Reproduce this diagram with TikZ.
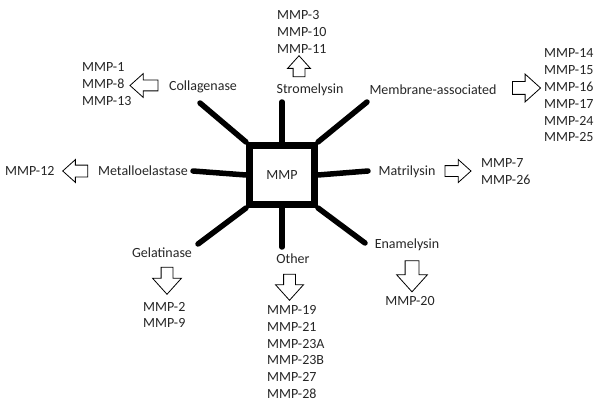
\documentclass[tikz,border=0pt]{standalone}
\usepackage{fontspec}
\setmainfont{Carlito}
\usetikzlibrary{shapes.arrows}

\tikzset{
  lbl/.style={text=black!85, font=\fontsize{14}{16.8}\selectfont, inner sep=1pt},
  mmplist/.style={lbl, align=left, anchor=west},
  spoke/.style={line width=5.5pt, line cap=round},
  blockarrow/.style={single arrow, draw, fill=white, line width=0.8pt,
    inner sep=0pt, single arrow tip angle=84},
}

\begin{document}
\begin{tikzpicture}[x=1pt, y=-1pt]
    \useasboundingbox (0,0) rectangle (604,406);
    % centre
    \node [draw, line width=7pt, minimum width=65pt, minimum height=59pt, lbl] (mmp) at (282,175) {MMP};
    % families
    \node [lbl] (coll) at (203,87) {Collagenase};
    \node [lbl] (strom) at (310,90) {Stromelysin};
    \node [lbl] (memb) at (433,90) {Membrane-associated};
    \node [lbl] (metal) at (143,171) {Metalloelastase};
    \node [lbl] (matri) at (407,172) {Matrilysin};
    \node [lbl] (gela) at (162,253) {Gelatinase};
    \node [lbl] (other) at (293,259) {Other};
    \node [lbl] (ename) at (407,245) {Enamelysin};
    % spoke ends
    \coordinate (endcoll) at (200,103);
    \coordinate (endstrom) at (282,102);
    \coordinate (endmemb) at (367,102);
    \coordinate (endmetal) at (193,171);
    \coordinate (endmatri) at (368,171);
    \coordinate (endgela) at (198,244);
    \coordinate (endother) at (282,247);
    \coordinate (endename) at (365,243);
    \draw [spoke] (mmp.north west) -- (endcoll);
    \draw [spoke] (mmp.north) -- (endstrom);
    \draw [spoke] (mmp.north east) -- (endmemb);
    \draw [spoke] (mmp.west) -- (endmetal);
    \draw [spoke] (mmp.east) -- (endmatri);
    \draw [spoke] (mmp.south west) -- (endgela);
    \draw [spoke] (mmp.south) -- (endother);
    \draw [spoke] (mmp.south east) -- (endename);
    % block arrows
    \node [blockarrow, rotate=180, minimum height=28pt, inner ysep=5pt, single arrow head extend=6.5pt] (acoll) at (147,85.5) {};
    \node [blockarrow, rotate=90, minimum height=21pt, inner ysep=5.5pt, single arrow head extend=5.5pt] (astrom) at (299,69.5) {};
    \node [blockarrow, minimum height=28pt, inner ysep=6pt, single arrow head extend=7.5pt] (amemb) at (523,88) {};
    \node [blockarrow, rotate=180, minimum height=25pt, inner ysep=5.5pt, single arrow head extend=5.5pt] (ametal) at (78.5,171) {};
    \node [blockarrow, minimum height=26pt, inner ysep=5pt, single arrow head extend=6pt] (amatri) at (455,171) {};
    \node [blockarrow, rotate=-90, minimum height=27pt, inner ysep=5.5pt, single arrow head extend=8.5pt] (agela) at (167,277.5) {};
    \node [blockarrow, rotate=-90, minimum height=26pt, inner ysep=5.5pt, single arrow head extend=8pt] (aother) at (289.5,284) {};
    \node [blockarrow, rotate=-90, minimum height=31pt, inner ysep=6.5pt, single arrow head extend=8.5pt] (aename) at (412,272.5) {};
    % members
    \node [mmplist] (lcoll) at (81,84) {MMP-1\\MMP-8\\MMP-13};
    \node [mmplist] (lstrom) at (276,32) {MMP-3\\MMP-10\\MMP-11};
    \node [mmplist] (lmemb) at (543,95.5) {MMP-14\\MMP-15\\MMP-16\\MMP-17\\MMP-24\\MMP-25};
    \node [mmplist] (lmetal) at (4,171) {MMP-12};
    \node [mmplist] (lmatri) at (480,171.5) {MMP-7\\MMP-26};
    \node [mmplist] (lgela) at (142,315) {MMP-2\\MMP-9};
    \node [mmplist] (lother) at (266,352) {MMP-19\\MMP-21\\MMP-23A\\MMP-23B\\MMP-27\\MMP-28};
    \node [lbl] (lename) at (410,301) {MMP-20};
\end{tikzpicture}
\end{document}
